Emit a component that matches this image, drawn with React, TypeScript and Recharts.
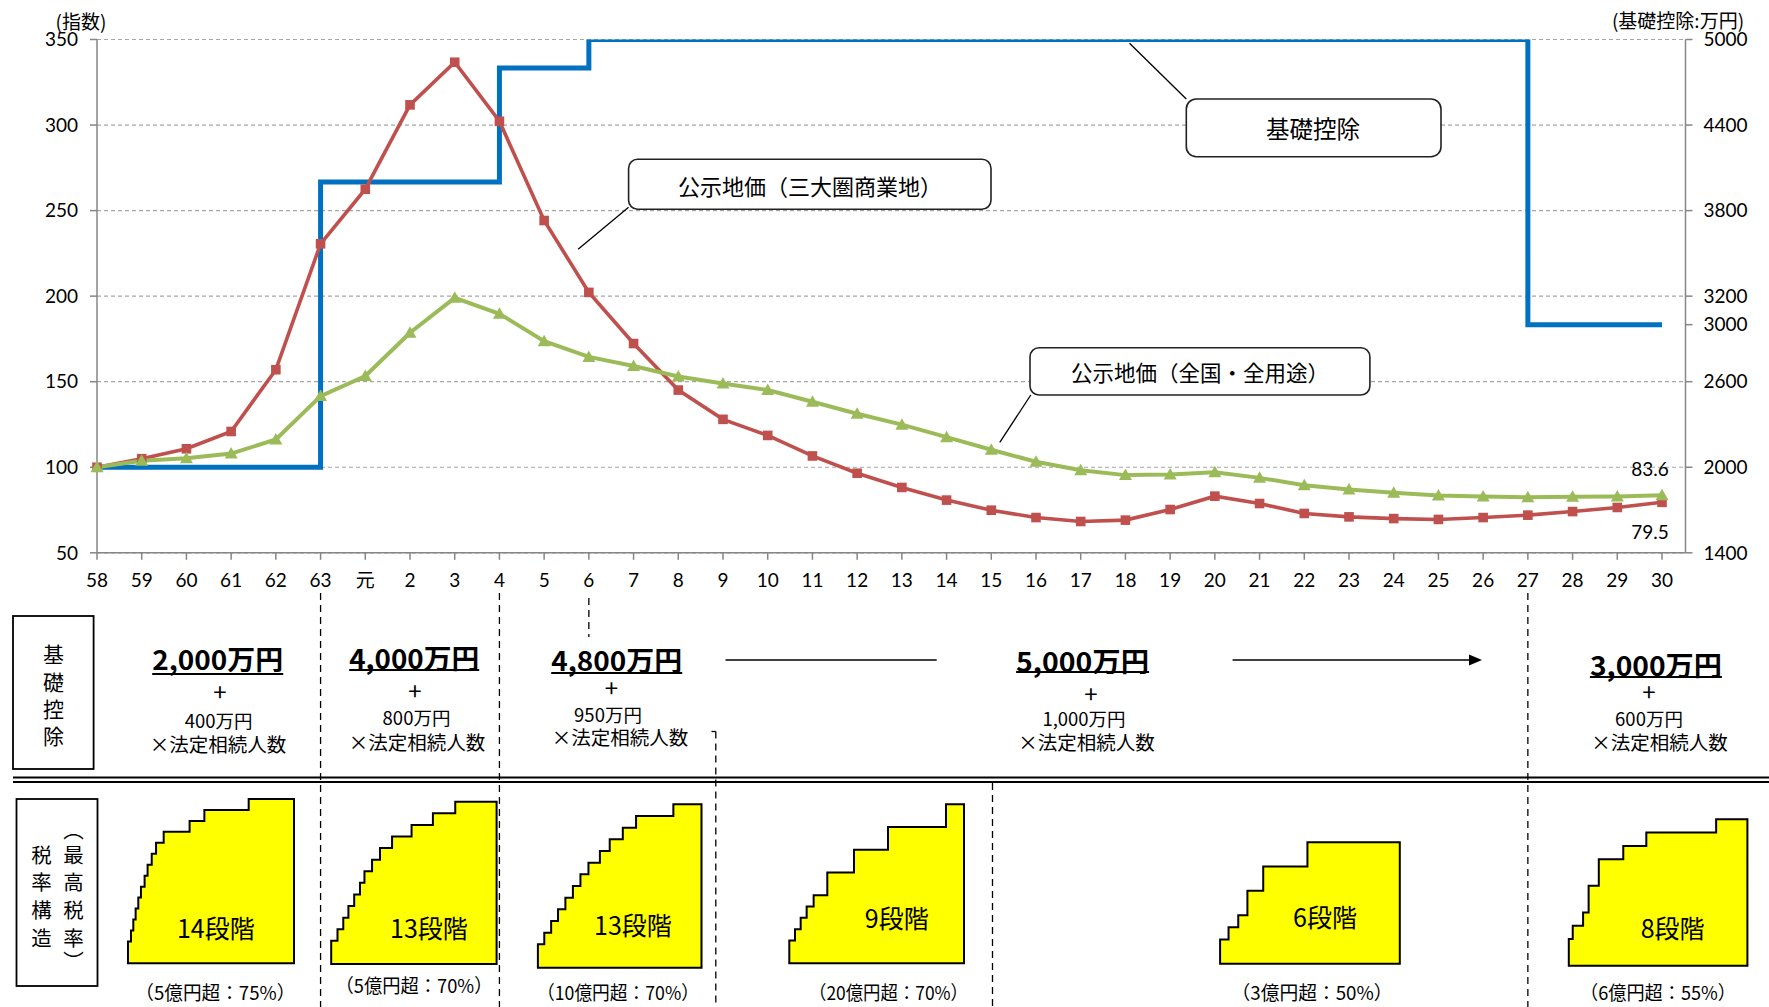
import React from 'react';
import { LineChart, Line, XAxis, YAxis, CartesianGrid } from 'recharts';

// ---------- data ----------
const years = ['58','59','60','61','62','63','元','2','3','4','5','6','7','8','9','10','11','12','13','14','15','16','17','18','19','20','21','22','23','24','25','26','27','28','29','30'];
const landCommercial = [100,105,110.8,120.9,157,230.6,262.5,311.8,336.7,302.2,244.2,202.2,172.3,145.1,128,118.6,106.6,96.5,88.2,80.8,74.9,70.6,68.3,69.1,75.3,83.1,78.8,73,71,70,69.5,70.6,72,74.1,76.5,79.5];
const landAll = [100,103.8,105.2,108,116.2,141.6,153.3,178.6,199,189.7,173.7,164.5,159.2,153,148.9,145.1,138.3,131.3,124.9,117.6,110.2,103.2,98.3,95.4,95.8,97.1,93.8,89.5,87,85.1,83.5,82.9,82.5,82.7,82.9,83.6];
const basicDeduction = [2000,2000,2000,2000,2000,4000,4000,4000,4000,4800,4800,5000,5000,5000,5000,5000,5000,5000,5000,5000,5000,5000,5000,5000,5000,5000,5000,5000,5000,5000,5000,5000,3000,3000,3000,3000];
const leftTicks = [50,100,150,200,250,300,350];
const rightTicks = [1400,2000,2600,3000,3200,3800,4400,5000];

const deductionBase = ['2,000万円','4,000万円','4,800万円','5,000万円','3,000万円'];
const deductionPerHeir = ['400万円','800万円','950万円','1,000万円','600万円'];

const stairRates = [
  [10,15,20,25,30,35,40,45,50,55,60,65,70,75],
  [10,15,20,25,30,35,40,45,50,55,60,65,70],
  [10,15,20,25,30,35,40,45,50,55,60,65,70],
  [10,15,20,25,30,40,50,60,70],
  [10,15,20,30,40,50],
  [10,15,20,30,40,45,50,55],
];
const stairBreaks = [
  [0,.018,.032,.046,.062,.078,.100,.118,.143,.169,.215,.371,.460,.727,1],
  [0,.038,.073,.104,.139,.174,.201,.247,.295,.368,.486,.615,.750,1],
  [0,.039,.081,.123,.168,.214,.260,.309,.379,.439,.519,.600,.828,1],
  [0,.0326,.0651,.0993,.1393,.2175,.3703,.5649,.8969,1],
  [0,.047,.101,.152,.240,.486,1],
  [0,.022,.080,.111,.168,.305,.434,.825,1],
];
const stairLabels = ['14段階','13段階','13段階','9段階','6段階','8段階'];
const stairCaptions = ['（5億円超：75%）','（5億円超：70%）','（10億円超：70%）','（20億円超：70%）','（3億円超：50%）','（6億円超：55%）'];

const chartData = years.map((y, i) => ({
  year: y,
  commercial: landCommercial[i],
  all: landAll[i],
  deduction: basicDeduction[i],
}));

// ---------- layout ----------
const W = 1769;
const H = 1007;
const PLOT_LEFT = 97;
const PLOT_RIGHT = 1685.5;
const PLOT_TOP = 39.5;
const PLOT_BOTTOM = 552.8;
const CHART_H = 600;
const LAST_X = 1662;
const STEP_X = (LAST_X - PLOT_LEFT) / (years.length - 1);
const xOf = (i: number) => PLOT_LEFT + i * STEP_X;

const NUM_FONT = "Lato, 'Noto Sans CJK JP', sans-serif";
const JP_FONT = "'Noto Sans CJK JP', sans-serif";

const RED = '#C0504D';
const GREEN = '#9BBB59';
const BLUE = '#0070C0';
const AXIS = '#868686';

const stairBoxes = [
  { l: 128, t: 799, r: 294, b: 963.3 },
  { l: 331.2, t: 801.7, r: 496.6, b: 964 },
  { l: 537.9, t: 804.3, r: 701.5, b: 967.7 },
  { l: 789.3, t: 804.3, r: 964, b: 963.3 },
  { l: 1220.1, t: 842.3, r: 1399.8, b: 963.7 },
  { l: 1568.8, t: 819.3, r: 1747.4, b: 965.7 },
];
const stairLabelPos = [
  [215.8, 927.3], [429, 926.7], [632.9, 924], [896.7, 916.7], [1325, 916], [1672.6, 926.7],
];
const stairCaptionPos = [
  [215.3, 991], [414, 984], [618, 991], [888.5, 991], [1312, 991.5], [1658, 991.5],
];
const stairCaptionWidth = [160, 157, 162, 159, 161, 156];

const dedCols = [
  { main: [217.7, 658.5], ul: 674, w: 131, plus: [219.9, 690], per: [218.7, 720], heirs: [218, 743.3] },
  { main: [414.2, 657], ul: 670, w: 130, plus: [415, 689], per: [416.5, 716.7], heirs: [417, 741.7] },
  { main: [616.7, 659.5], ul: 673, w: 131, plus: [611.4, 686.7], per: [608, 714], heirs: [620, 736.7] },
  { main: [1082.6, 660.5], ul: 672, w: 133, plus: [1091, 692], per: [1084, 717.7], heirs: [1086.4, 741.7] },
  { main: [1655.9, 664.5], ul: 677, w: 132, plus: [1649, 690], per: [1649, 717.7], heirs: [1659.5, 741.7] },
];

function stairPath(b: { l: number; t: number; r: number; b: number }, rates: number[], breaks: number[]) {
  const max = rates[rates.length - 1];
  const w = b.r - b.l;
  const h = b.b - b.t;
  let d = `M${b.l},${b.b}`;
  rates.forEach((r, i) => {
    const y = b.b - (r / max) * h;
    const x2 = b.l + breaks[i + 1] * w;
    d += ` V${y.toFixed(2)} H${x2.toFixed(2)}`;
  });
  d += ` V${b.b} Z`;
  return d;
}

const SquareDot = (props: any) => {
  const { cx, cy, index, value } = props;
  if (cx == null || cy == null) return <g key={`sq-${index}`} />;
  return (
    <g key={`sq-${index}`}>
      <rect x={cx - 4.8} y={cy - 4.8} width={9.6} height={9.6} fill={RED} />
      {index === years.length - 1 && (
        <text x={cx - 12} y={cy + 29} textAnchor="middle" dominantBaseline="central" fontSize={19} fontFamily={NUM_FONT} fill="#000">
          {value}
        </text>
      )}
    </g>
  );
};

const TriangleDot = (props: any) => {
  const { cx, cy, index, value } = props;
  if (cx == null || cy == null) return <g key={`tr-${index}`} />;
  return (
    <g key={`tr-${index}`}>
      <polygon points={`${cx},${cy - 6.5} ${cx - 6.5},${cy + 5} ${cx + 6.5},${cy + 5}`} fill={GREEN} />
      {index === years.length - 1 && (
        <text x={cx - 12} y={cy - 27} textAnchor="middle" dominantBaseline="central" fontSize={19} fontFamily={NUM_FONT} fill="#000">
          {value}
        </text>
      )}
    </g>
  );
};

const Dashed = ({ x, y1, y2 }: { x: number; y1: number; y2: number }) => (
  <line x1={x} x2={x} y1={y1} y2={y2} stroke="#000" strokeWidth={1.3} strokeDasharray="7 5" />
);

export default function App() {
  return (
    <div style={{ position: 'absolute', left: 0, top: 0, width: W, height: H, background: '#fff', overflow: 'hidden' }}>
      <div style={{ position: 'absolute', left: 0, top: 0 }}>
        <LineChart
          width={W}
          height={CHART_H}
          data={chartData}
          margin={{ top: PLOT_TOP, right: 0, bottom: 0, left: 0 }}
        >
          <CartesianGrid yAxisId="left" vertical={false} stroke="#a6a6a6" strokeDasharray="4 3" strokeWidth={1.2} />
          <XAxis
            dataKey="year"
            scale="point"
            interval={0}
            padding={{ left: 0, right: PLOT_RIGHT - LAST_X }}
            height={CHART_H - PLOT_BOTTOM}
            tickSize={7}
            tickMargin={14}
            stroke={AXIS}
            strokeWidth={1.5}
            tick={{ fontSize: 19, fill: '#000', fontFamily: NUM_FONT }}
          />
          <YAxis
            yAxisId="left"
            orientation="left"
            width={PLOT_LEFT}
            domain={[50, 350]}
            ticks={leftTicks}
            interval={0}
            allowDataOverflow
            tickSize={7}
            tickMargin={12}
            stroke={AXIS}
            strokeWidth={1.5}
            tick={{ fontSize: 19, fill: '#000', fontFamily: NUM_FONT }}
          />
          <YAxis
            yAxisId="right"
            orientation="right"
            width={W - PLOT_RIGHT}
            domain={[1400, 5000]}
            ticks={rightTicks}
            interval={0}
            allowDataOverflow
            tickSize={7}
            tickMargin={11}
            stroke={AXIS}
            strokeWidth={1.5}
            tick={{ fontSize: 19, fill: '#000', fontFamily: NUM_FONT }}
          />
          <Line
            yAxisId="right"
            type="stepAfter"
            dataKey="deduction"
            stroke={BLUE}
            strokeWidth={5}
            dot={false}
            activeDot={false}
            isAnimationActive={false}
          />
          <Line
            yAxisId="left"
            type="linear"
            dataKey="commercial"
            stroke={RED}
            strokeWidth={3.6}
            dot={SquareDot}
            activeDot={false}
            isAnimationActive={false}
          />
          <Line
            yAxisId="left"
            type="linear"
            dataKey="all"
            stroke={GREEN}
            strokeWidth={4}
            dot={TriangleDot}
            activeDot={false}
            isAnimationActive={false}
          />
        </LineChart>
      </div>

      <svg width={W} height={H} style={{ position: 'absolute', left: 0, top: 0, pointerEvents: 'none' }}>
        {/* axis titles */}
        <text x={81} y={20} textAnchor="middle" dominantBaseline="central" fontSize={19} fontFamily={JP_FONT} fill="#000">(指数)</text>
        <text x={1678} y={19} textAnchor="middle" dominantBaseline="central" fontSize={19} fontFamily={JP_FONT} fill="#000">(基礎控除:万円)</text>

        {/* callouts */}
        <line x1={628.6} y1={207.3} x2={578.1} y2={249.3} stroke="#000" strokeWidth={1.3} />
        <rect x={628.6} y={159.3} width={362.4} height={50} rx={9} fill="#fff" stroke="#222" strokeWidth={1.6} />
        <text x={810} y={184.5} textAnchor="middle" dominantBaseline="central" fontSize={22} fontFamily={JP_FONT} fill="#000">公示地価（三大圏商業地）</text>

        <line x1={1186.3} y1={99} x2={1129.5} y2={43.3} stroke="#000" strokeWidth={1.3} />
        <rect x={1186.3} y={99} width={254.7} height={57.7} rx={10} fill="#fff" stroke="#222" strokeWidth={1.6} />
        <text x={1313} y={128} textAnchor="middle" dominantBaseline="central" fontSize={23.5} fontFamily={JP_FONT} fill="#000">基礎控除</text>

        <line x1={1030.8} y1={395} x2={999.8} y2={442.3} stroke="#000" strokeWidth={1.3} />
        <rect x={1030} y={347.7} width={339.9} height={47.3} rx={9} fill="#fff" stroke="#222" strokeWidth={1.6} />
        <text x={1200} y={371.5} textAnchor="middle" dominantBaseline="central" fontSize={21.5} fontFamily={JP_FONT} fill="#000">公示地価（全国・全用途）</text>

        {/* dashed separators */}
        <Dashed x={xOf(5)} y1={593} y2={H} />
        <Dashed x={xOf(9)} y1={593} y2={H} />
        <Dashed x={xOf(11)} y1={598} y2={637} />
        <line x1={711.5} x2={715.8} y1={731.5} y2={731.5} stroke="#000" strokeWidth={1.3} />
        <Dashed x={715.8} y1={731.5} y2={H} />
        <Dashed x={992.5} y1={783} y2={H} />
        <Dashed x={xOf(32)} y1={593} y2={H} />

        {/* double rule */}
        <line x1={13} x2={W} y1={777.5} y2={777.5} stroke="#000" strokeWidth={2} />
        <line x1={13} x2={W} y1={782} y2={782} stroke="#000" strokeWidth={2} />

        {/* row headers */}
        <rect x={13} y={616} width={80.6} height={153} fill="#fff" stroke="#000" strokeWidth={1.8} />
        {['基', '礎', '控', '除'].map((c, i) => (
          <text key={c} x={53.4} y={653.3 + i * 27.2} textAnchor="middle" dominantBaseline="central" fontSize={21} fontFamily={JP_FONT} fill="#000">{c}</text>
        ))}
        <rect x={16.5} y={799} width={81} height={187} fill="#fff" stroke="#000" strokeWidth={1.8} />
        {['税', '率', '構', '造'].map((c, i) => (
          <text key={'a' + i} x={41.5} y={853.5 + i * 27.8} textAnchor="middle" dominantBaseline="central" fontSize={20.5} fontFamily={JP_FONT} fill="#000">{c}</text>
        ))}
        {['︵', '最', '高', '税', '率', '︶'].map((c, i) => (
          <text key={'b' + i} x={73.5} y={(i === 0 ? 829 : i === 5 ? 960 : 853.5 + (i - 1) * 27.8)} textAnchor="middle" dominantBaseline="central" fontSize={20.5} fontFamily={JP_FONT} fill="#000">{c}</text>
        ))}

        {/* basic deduction row */}
        {dedCols.map((c, i) => (
          <g key={'ded' + i}>
            <text x={c.main[0]} y={c.main[1]} textAnchor="middle" dominantBaseline="central" fontSize={27} fontWeight="bold" fontFamily={JP_FONT} fill="#000" textLength={c.w} lengthAdjust="spacingAndGlyphs">{deductionBase[i]}</text>
            <line x1={c.main[0] - c.w / 2} x2={c.main[0] + c.w / 2} y1={c.ul} y2={c.ul} stroke="#000" strokeWidth={2} />
            <text x={c.plus[0]} y={c.plus[1]} textAnchor="middle" dominantBaseline="central" fontSize={24} fontFamily={JP_FONT} fill="#000">+</text>
            <text x={c.per[0]} y={c.per[1]} textAnchor="middle" dominantBaseline="central" fontSize={18.5} fontFamily={JP_FONT} fill="#000">{deductionPerHeir[i]}</text>
            <text x={c.heirs[0]} y={c.heirs[1]} textAnchor="middle" dominantBaseline="central" fontSize={19.5} fontFamily={JP_FONT} fill="#000">×法定相続人数</text>
          </g>
        ))}
        <line x1={725.5} x2={936.7} y1={660} y2={660} stroke="#000" strokeWidth={1.5} />
        <line x1={1232.6} x2={1470} y1={660} y2={660} stroke="#000" strokeWidth={1.5} />
        <polygon points="1482,660 1469,654.5 1469,665.5" fill="#000" />

        {/* tax structure staircases */}
        {stairBoxes.map((b, i) => (
          <g key={'st' + i}>
            <path d={stairPath(b, stairRates[i], stairBreaks[i])} fill="#FFFF00" stroke="#000" strokeWidth={2} strokeLinejoin="miter" />
            <text x={stairLabelPos[i][0]} y={stairLabelPos[i][1]} textAnchor="middle" dominantBaseline="central" fontSize={25} fontFamily={JP_FONT} fill="#000">{stairLabels[i]}</text>
            <text x={stairCaptionPos[i][0]} y={stairCaptionPos[i][1]} textAnchor="middle" dominantBaseline="central" fontSize={19} fontFamily={JP_FONT} fill="#000" textLength={stairCaptionWidth[i]} lengthAdjust="spacingAndGlyphs">{stairCaptions[i]}</text>
          </g>
        ))}
      </svg>
    </div>
  );
}
